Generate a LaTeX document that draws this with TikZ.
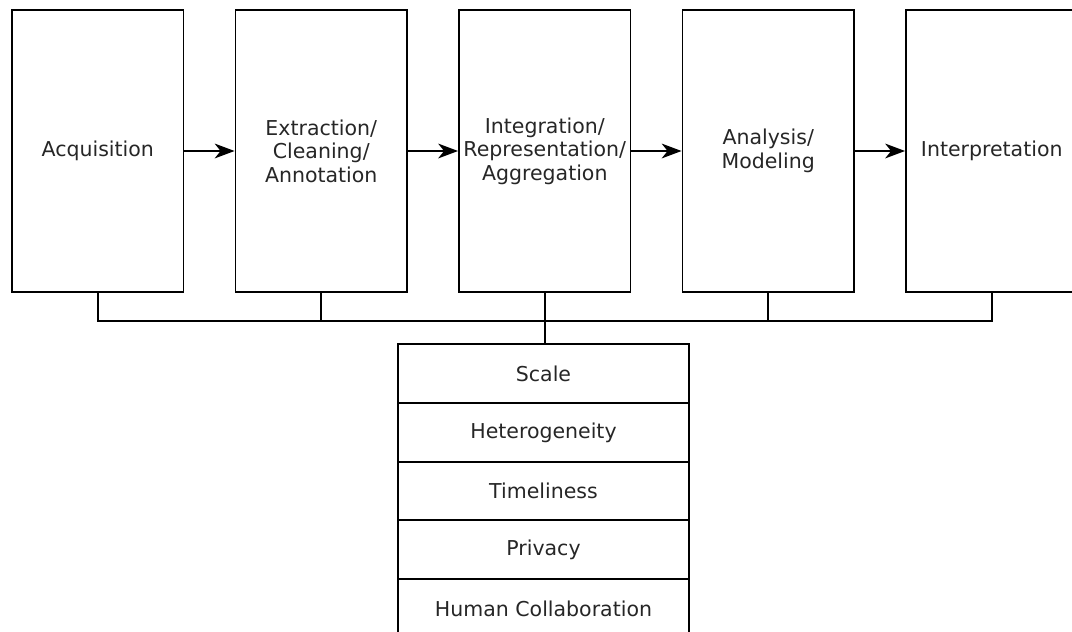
\documentclass[tikz,border=0pt]{standalone}
\usepackage{fontspec}
\newfontfamily\labelfont{DejaVu Sans}
\usetikzlibrary{arrows.meta}
\begin{document}
\begin{tikzpicture}[x=1pt,y=-1pt,
  line width=1.9pt,
  every node/.style={font=\labelfont\fontsize{20.5}{23.5}\selectfont, text=black!85},
  stage/.style={draw=black, rectangle, minimum width=171.5pt, minimum height=282pt,
    inner sep=0pt, align=center},
  issue/.style={draw=black, rectangle, minimum width=291pt, minimum height=59pt,
    inner sep=0pt},
  flow/.style={-{Stealth[length=20pt,width=15pt,inset=6pt,line width=0pt]}}]
\useasboundingbox (0,0) rectangle (1072,632);
\clip (0,0) rectangle (1072,632);

% pipeline stages
\node[stage] (b1) at (97.75,151) {Acquisition};
\node[stage] (b2) at (321.25,151) {Extraction/\\Cleaning/\\Annotation};
\node[stage] (b3) at (544.75,151) {Integration/\\Representation/\\Aggregation};
\node[stage] (b4) at (768.25,151) {Analysis/\\Modeling};
\node[stage] (b5) at (991.75,151) {Interpretation};

\draw[flow] (b1) -- (b2);
\draw[flow] (b2) -- (b3);
\draw[flow] (b3) -- (b4);
\draw[flow] (b4) -- (b5);

% cross-cutting challenges
\node[issue] (r1) at (543.5,373.5) {Scale};
\node[issue] (r2) at (543.5,432.5) {Heterogeneity};
\node[issue] (r3) at (543.5,491) {Timeliness};
\node[issue] (r4) at (543.5,549.5) {Privacy};
\node[issue] (r5) at (543.5,608.5) {Human Collaboration};

% bus joining every stage to the challenges
\coordinate (bus) at (0,321);
\draw (b1.south) -- (b1.south |- bus) -- (b5.south |- bus) -- (b5.south);
\draw (b2.south) -- (b2.south |- bus);
\draw (b4.south) -- (b4.south |- bus);
\draw (b3.south) -- (b3.south |- r1.north);
\end{tikzpicture}
\end{document}
